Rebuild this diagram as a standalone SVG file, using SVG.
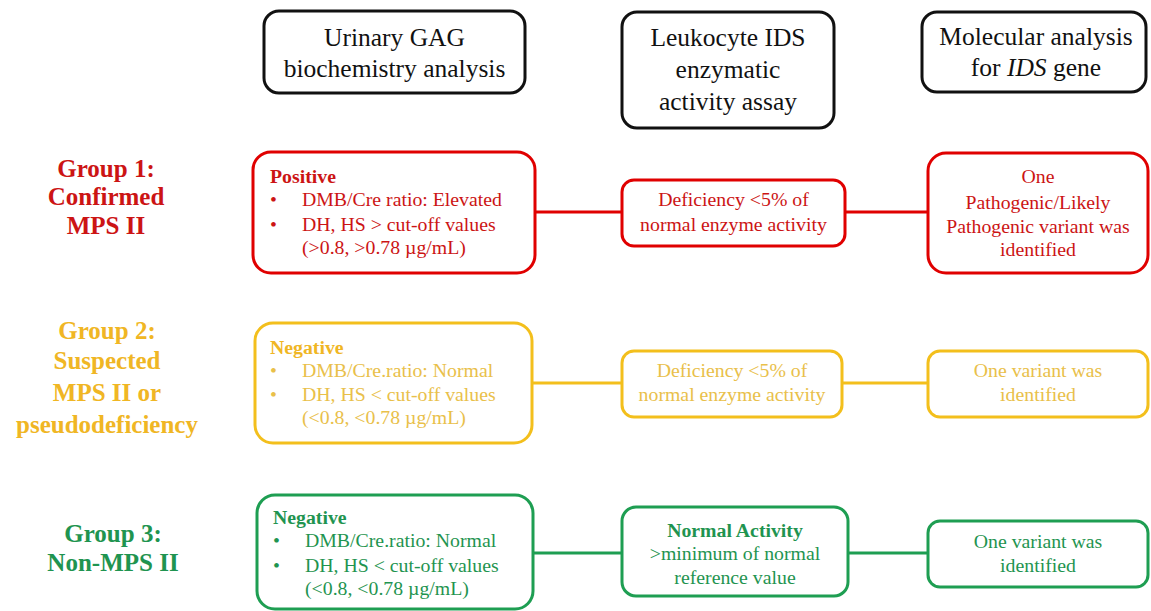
<svg xmlns="http://www.w3.org/2000/svg" width="1151" height="611" viewBox="0 0 1151 611">
<style>
text{font-family:"Liberation Serif","Times New Roman",serif}
.hd{font-family:"Liberation Serif","Times New Roman",serif;font-size:25.5px;fill:#111;text-anchor:middle}
.hb{fill:#fff;stroke:#111;stroke-width:3}
.lbl{font-size:25px;font-weight:bold;text-anchor:middle}
.b{font-size:19.8px}
.c{text-anchor:middle}
.bold{font-weight:bold}
.red{stroke:#e00000;fill:#fff;stroke-width:3}
.yel{stroke:#f3bf1c;fill:#fff;stroke-width:3}
.grn{stroke:#1e9e52;fill:#fff;stroke-width:3}
.tr{fill:#cc1414}
.ty{fill:#e9c04a}
.ly{fill:#f0b624}
.tg{fill:#1f9450}
</style>
<rect width="1151" height="611" fill="#fff"/>
<g id="header-gag">
<rect class="hb" x="264" y="11" width="261" height="82" rx="15"/>
<text class="hd" x="394.5" y="46">Urinary GAG</text>
<text class="hd" x="394.5" y="77">biochemistry analysis</text>
</g>
<g id="header-ids">
<rect class="hb" x="622" y="12" width="212" height="116" rx="15"/>
<text class="hd" x="728" y="46">Leukocyte IDS</text>
<text class="hd" x="728" y="78">enzymatic</text>
<text class="hd" x="728" y="110">activity assay</text>
</g>
<g id="header-mol">
<rect class="hb" x="922" y="12" width="224" height="80" rx="15"/>
<text class="hd" x="1036" y="45">Molecular analysis</text>
<text class="hd" x="1036" y="76">for <tspan font-style="italic">IDS</tspan> gene</text>
</g>
<g id="connectors">
<line x1="535" y1="212" x2="622" y2="212" stroke="#e00000" stroke-width="3"/>
<line x1="845" y1="212" x2="928" y2="212" stroke="#e00000" stroke-width="3"/>
<line x1="532" y1="383" x2="622" y2="383" stroke="#f3bf1c" stroke-width="3"/>
<line x1="842" y1="383" x2="928" y2="383" stroke="#f3bf1c" stroke-width="3"/>
<line x1="533" y1="553" x2="622" y2="553" stroke="#1e9e52" stroke-width="3"/>
<line x1="848" y1="553" x2="928" y2="553" stroke="#1e9e52" stroke-width="3"/>
</g>
<g id="group1-label">
<text class="lbl tr" x="106" y="177">Group 1:</text>
<text class="lbl tr" x="106" y="205">Confirmed</text>
<text class="lbl tr" x="106" y="234">MPS II</text>
</g>
<g id="group1-gag">
<rect class="red" x="253" y="152" width="282" height="121" rx="18"/>
<text class="b bold tr" x="270" y="183">Positive</text>
<text class="b tr" x="270" y="206">•</text>
<text class="b tr" x="302" y="206">DMB/Cre ratio: Elevated</text>
<text class="b tr" x="270" y="231">•</text>
<text class="b tr" x="302" y="231">DH, HS &gt; cut-off values</text>
<text class="b tr" x="302" y="254">(&gt;0.8, &gt;0.78 µg/mL)</text>
</g>
<g id="group1-ids">
<rect class="red" x="622" y="180" width="223" height="66" rx="12"/>
<text class="b c tr" x="733.5" y="206">Deficiency  &lt;5% of</text>
<text class="b c tr" x="733.5" y="231">normal enzyme activity</text>
</g>
<g id="group1-mol">
<rect class="red" x="928" y="153" width="220" height="120" rx="18"/>
<text class="b c tr" x="1038" y="183">One</text>
<text class="b c tr" x="1038" y="209">Pathogenic/Likely</text>
<text class="b c tr" x="1038" y="233">Pathogenic variant was</text>
<text class="b c tr" x="1038" y="256">identified</text>
</g>
<g id="group2-label">
<text class="lbl ly" x="107" y="339">Group 2:</text>
<text class="lbl ly" x="107" y="369">Suspected</text>
<text class="lbl ly" x="107" y="401">MPS II or</text>
<text class="lbl ly" x="107" y="433">pseudodeficiency</text>
</g>
<g id="group2-gag">
<rect class="yel" x="255" y="323" width="277" height="120" rx="18"/>
<text class="b bold ly" x="270" y="354">Negative</text>
<text class="b ty" x="270" y="377">•</text>
<text class="b ty" x="302" y="377">DMB/Cre.ratio:  Normal</text>
<text class="b ty" x="270" y="401">•</text>
<text class="b ty" x="302" y="401">DH, HS &lt; cut-off values</text>
<text class="b ty" x="302" y="424">(&lt;0.8, &lt;0.78 µg/mL)</text>
</g>
<g id="group2-ids">
<rect class="yel" x="622" y="351" width="220" height="66" rx="12"/>
<text class="b c ty" x="732" y="377">Deficiency  &lt;5% of</text>
<text class="b c ty" x="732" y="401">normal enzyme activity</text>
</g>
<g id="group2-mol">
<rect class="yel" x="928" y="351" width="220" height="66" rx="12"/>
<text class="b c ty" x="1038" y="377">One variant was</text>
<text class="b c ty" x="1038" y="401">identified</text>
</g>
<g id="group3-label">
<text class="lbl tg" x="113" y="542">Group 3:</text>
<text class="lbl tg" x="113" y="571">Non-MPS II</text>
</g>
<g id="group3-gag">
<rect class="grn" x="257" y="495" width="276" height="114" rx="18"/>
<text class="b bold tg" x="273" y="524">Negative</text>
<text class="b tg" x="273" y="547">•</text>
<text class="b tg" x="305" y="547">DMB/Cre.ratio:  Normal</text>
<text class="b tg" x="273" y="572">•</text>
<text class="b tg" x="305" y="572">DH, HS &lt; cut-off values</text>
<text class="b tg" x="305" y="595">(&lt;0.8, &lt;0.78 µg/mL)</text>
</g>
<g id="group3-ids">
<rect class="grn" x="622" y="507" width="226" height="89" rx="14"/>
<text class="b c bold tg" x="735" y="537">Normal Activity</text>
<text class="b c tg" x="735" y="560">&gt;minimum  of normal</text>
<text class="b c tg" x="735" y="584">reference value</text>
</g>
<g id="group3-mol">
<rect class="grn" x="928" y="521" width="220" height="66" rx="12"/>
<text class="b c tg" x="1038" y="548">One variant was</text>
<text class="b c tg" x="1038" y="572">identified</text>
</g>
</svg>
